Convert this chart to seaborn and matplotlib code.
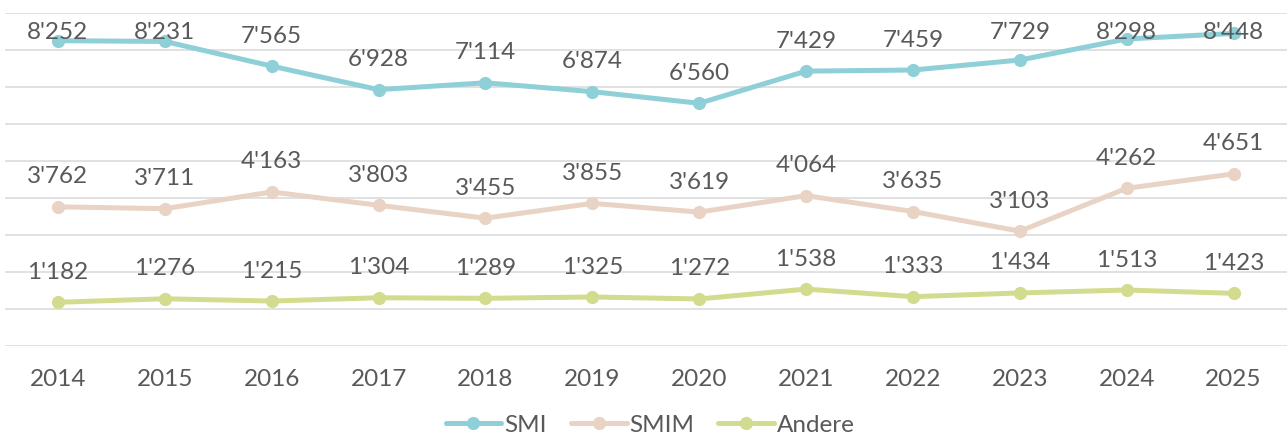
import matplotlib
matplotlib.use("Agg")
import matplotlib.pyplot as plt
import seaborn as sns
import pandas as pd
from matplotlib.lines import Line2D

years = ["2014", "2015", "2016", "2017", "2018", "2019", "2020", "2021", "2022", "2023", "2024", "2025"]
smi = [8252, 8231, 7565, 6928, 7114, 6874, 6560, 7429, 7459, 7729, 8298, 8448]
smim = [3762, 3711, 4163, 3803, 3455, 3855, 3619, 4064, 3635, 3103, 4262, 4651]
andere = [1182, 1276, 1215, 1304, 1289, 1325, 1272, 1538, 1333, 1434, 1513, 1423]
series_names = ["SMI", "SMIM", "Andere"]
colors = ["#8ecfd8", "#e8d3c5", "#d3dc8e"]

sns.set_theme(style="white")
plt.rcParams["font.family"] = ["Lato", "DejaVu Sans"]
text_color = "#595959"
fs = 17.5

df = pd.concat([
    pd.DataFrame({"Jahr": years, "Wert": vals, "Index": name})
    for name, vals in zip(series_names, [smi, smim, andere])
])

fig = plt.figure(figsize=(12.87, 4.36), dpi=100)
ax = fig.add_axes([4.5 / 1287, 1 - 346 / 436, 1282.5 / 1287, (346 - 13) / 436])

sns.lineplot(data=df, x="Jahr", y="Wert", hue="Index", palette=colors,
             marker="o", markersize=9.5, markeredgewidth=0, linewidth=3.6,
             sort=False, legend=False, ax=ax)

ax.set_xlim(-0.5, len(years) - 0.5)
ax.set_ylim(0, 9000)
ax.set_yticks(range(0, 9001, 1000))
ax.yaxis.grid(True, color="#d9d9d9", linewidth=1.1)
ax.set_axisbelow(True)
ax.set_yticklabels([])
ax.tick_params(axis="y", length=0)
ax.tick_params(axis="x", length=0, pad=16.5, labelsize=fs, labelcolor=text_color)
ax.set_xlabel("")
ax.set_ylabel("")
for s in ax.spines.values():
    s.set_visible(False)

def fmt(v):
    return f"{v:,}".replace(",", "'")

for vals in [smi, smim, andere]:
    for i, v in enumerate(vals):
        y = min(v + 810, 8460)
        ax.text(i, y, fmt(v), ha="center", va="center", fontsize=fs, color=text_color)

handles = [Line2D([0], [0], color=c, lw=3.6, marker="o", markersize=9.5, markeredgewidth=0)
           for c in colors]
leg = fig.legend(handles, series_names, loc="center", bbox_to_anchor=(650 / 1287, 1 - 425 / 436),
                 ncol=3, frameon=False, fontsize=fs, handlelength=2.3, handletextpad=0.1,
                 columnspacing=1.0)
for t in leg.get_texts():
    t.set_color(text_color)

fig.savefig("out.png", dpi=100)
